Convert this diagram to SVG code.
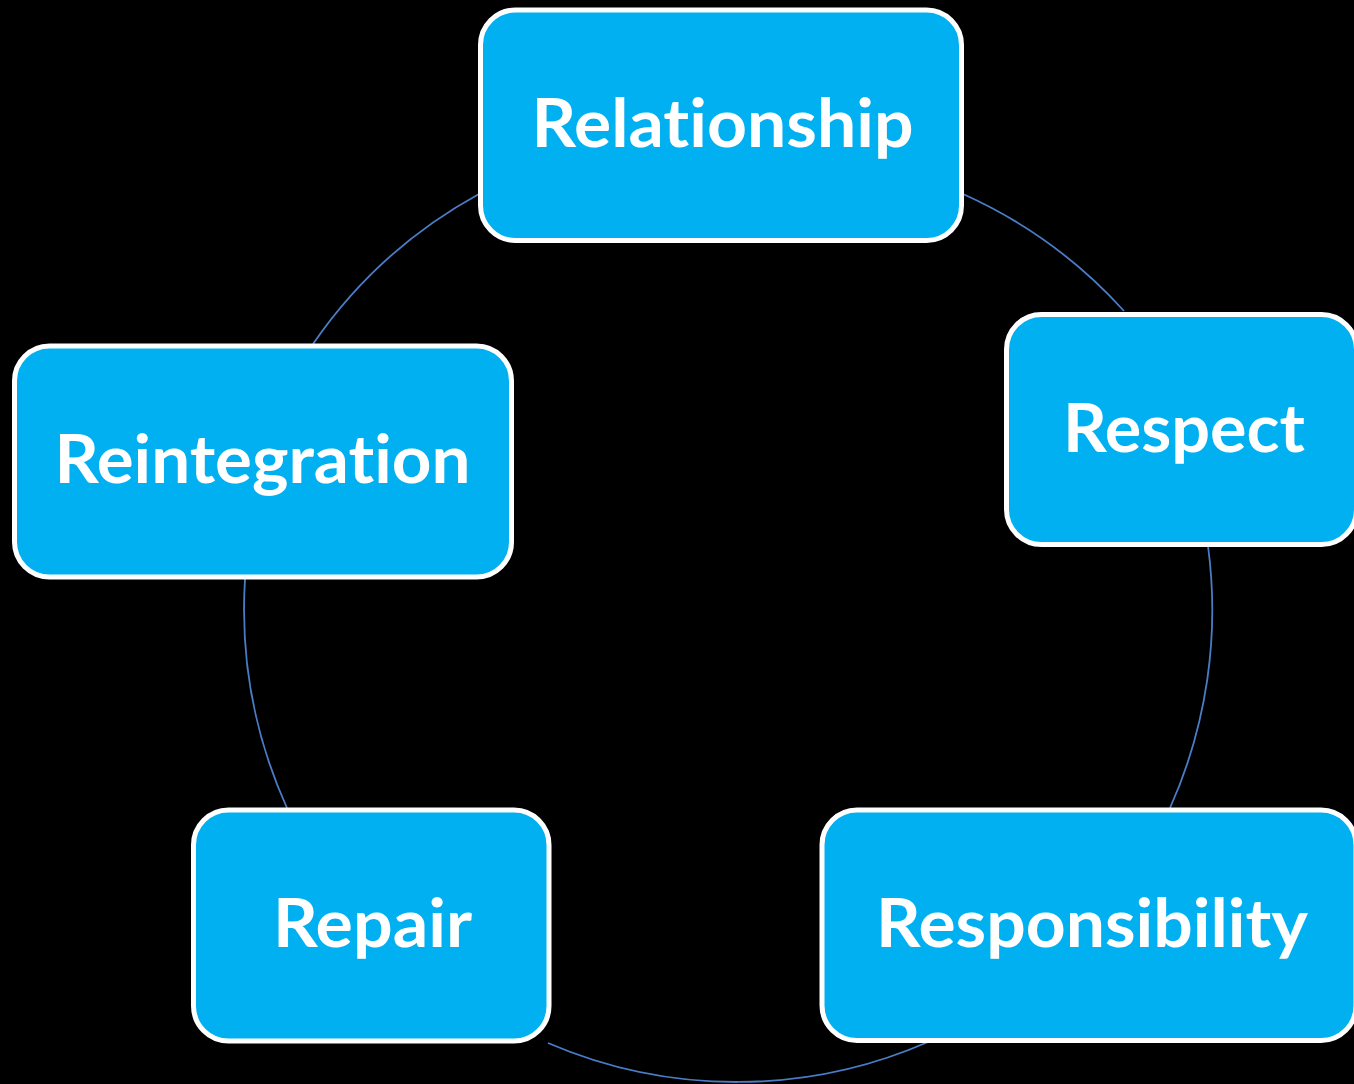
<svg xmlns="http://www.w3.org/2000/svg" width="1354" height="1084" viewBox="0 0 1354 1084">
  <style>
    .box { fill: #00B0F0; stroke: #FFFFFF; stroke-width: 5; }
    .lbl { fill: #FFFFFF; font-family: Lato, "Open Sans", "Liberation Sans", sans-serif; font-weight: bold; font-size: 66px; text-anchor: middle; font-variant-ligatures: none; font-feature-settings: "liga" 0, "clig" 0, "dlig" 0; }
    .arc { fill: none; stroke: #4A7DC6; stroke-width: 1.8; }
  </style>
  <rect x="0" y="0" width="1354" height="1084" fill="#000000"/>
  <g id="connectors">
    <path class="arc" d="M 963 194 A 483 483 0 0 1 1124 311"/>
    <path class="arc" d="M 1208 546 A 484 484 0 0 1 1170 808"/>
    <path class="arc" d="M 928 1042 A 477 477 0 0 1 548 1043"/>
    <path class="arc" d="M 287 808 A 484 484 0 0 1 245 579"/>
    <path class="arc" d="M 313 344 A 483 483 0 0 1 479 194"/>
  </g>
  <g id="node-relationship">
    <rect class="box" x="480.5" y="10" width="481" height="230.5" rx="35" ry="35"/>
    <text class="lbl" x="722.5" y="147" textLength="382" lengthAdjust="spacingAndGlyphs">Relationship</text>
  </g>
  <g id="node-respect">
    <rect class="box" x="1006.5" y="314.5" width="350" height="230" rx="35" ry="35"/>
    <text class="lbl" x="1184" y="452" textLength="242" lengthAdjust="spacingAndGlyphs">Respect</text>
  </g>
  <g id="node-responsibility">
    <rect class="box" x="822" y="810" width="534" height="230.5" rx="35" ry="35"/>
    <text class="lbl" x="1092" y="947" textLength="432" lengthAdjust="spacingAndGlyphs">Responsibility</text>
  </g>
  <g id="node-repair">
    <rect class="box" x="193.5" y="810" width="355.5" height="231" rx="35" ry="35"/>
    <text class="lbl" x="372.5" y="947" textLength="199" lengthAdjust="spacingAndGlyphs">Repair</text>
  </g>
  <g id="node-reintegration">
    <rect class="box" x="14.5" y="346" width="497" height="231" rx="35" ry="35"/>
    <text class="lbl" x="262.5" y="483" textLength="416" lengthAdjust="spacingAndGlyphs">Reintegration</text>
  </g>
</svg>
